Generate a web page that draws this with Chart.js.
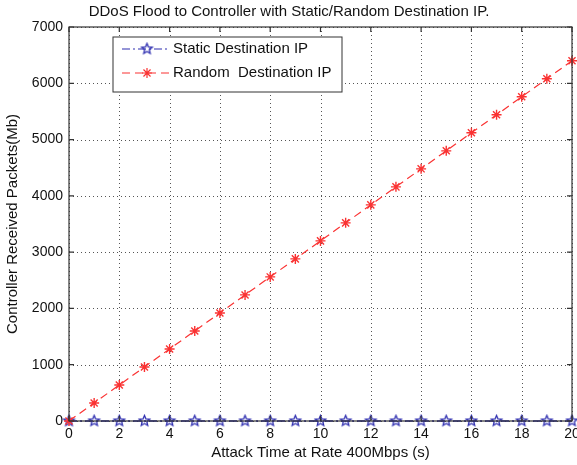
<!DOCTYPE html>
<html>
<head>
<meta charset="utf-8">
<script src="https://cdn.jsdelivr.net/npm/chart.js@4.4.0/dist/chart.umd.min.js"></script>
<style>
  html, body { margin: 0; padding: 0; background: #fff; }
  #wrap { width: 577px; height: 465px; }
</style>
</head>
<body>
<div id="wrap"><canvas id="ddosChart" width="577" height="465"></canvas></div>
<script>
// data
const attackTimes = [0, 1, 2, 3, 4, 5, 6, 7, 8, 9, 10, 11, 12, 13, 14, 15, 16, 17, 18, 19, 20];
const staticDestIP = [0, 0, 0, 0, 0, 0, 0, 0, 0, 0, 0, 0, 0, 0, 0, 0, 0, 0, 0, 0, 0];
const randomDestIP = [0, 320, 640, 960, 1280, 1600, 1920, 2240, 2560, 2880, 3200,
                      3520, 3840, 4160, 4480, 4800, 5120, 5440, 5760, 6080, 6400];
const yTicks = [0, 1000, 2000, 3000, 4000, 5000, 6000, 7000];
const xTicks = [0, 2, 4, 6, 8, 10, 12, 14, 16, 18, 20];

const BLUE = 'rgb(45, 45, 175)';
const RED = 'rgb(250, 50, 50)';
const FONT = 'Liberation Sans, Arial, sans-serif';

// outlined pentagram marker like matlab's 'p'
function pentagram(color, r) {
    const c = document.createElement('canvas');
    const s = Math.ceil(r * 2 + 4);
    c.width = s; c.height = s;
    const g = c.getContext('2d');
    g.strokeStyle = color;
    g.lineWidth = 1.3;
    g.beginPath();
    for (let i = 0; i < 10; i++) {
        const rad = i % 2 === 0 ? r : r * 0.45;
        const a = -Math.PI / 2 + i * Math.PI / 5;
        const px = s / 2 + rad * Math.cos(a), py = s / 2 + rad * Math.sin(a);
        if (i === 0) g.moveTo(px, py); else g.lineTo(px, py);
    }
    g.closePath();
    g.stroke();
    return c;
}
const starMark = pentagram(BLUE, 5.5);

// dotted grid under the lines
const gridPlugin = {
    id: 'dottedGrid',
    beforeDatasetsDraw(chart) {
        const { ctx, chartArea: a, scales } = chart;
        ctx.save();
        ctx.strokeStyle = '#555';
        ctx.lineWidth = 1;
        ctx.setLineDash([1, 3]);
        ctx.beginPath();
        xTicks.forEach(v => {
            const px = Math.round(scales.x.getPixelForValue(v)) + 0.5;
            ctx.moveTo(px, a.top); ctx.lineTo(px, a.bottom);
        });
        yTicks.forEach(v => {
            const py = Math.round(scales.y.getPixelForValue(v)) + 0.5;
            ctx.moveTo(a.left, py); ctx.lineTo(a.right, py);
        });
        ctx.stroke();
        ctx.restore();
    }
};

// frame, inward ticks, title and legend box
const decorPlugin = {
    id: 'decor',
    afterDraw(chart) {
        const { ctx, chartArea: a, scales } = chart;
        ctx.save();
        ctx.strokeStyle = '#333';
        ctx.lineWidth = 1.2;
        ctx.strokeRect(a.left, a.top, a.right - a.left, a.bottom - a.top);
        ctx.beginPath();
        xTicks.forEach(v => {
            const px = scales.x.getPixelForValue(v);
            ctx.moveTo(px, a.bottom); ctx.lineTo(px, a.bottom - 5);
            ctx.moveTo(px, a.top); ctx.lineTo(px, a.top + 5);
        });
        yTicks.forEach(v => {
            const py = scales.y.getPixelForValue(v);
            ctx.moveTo(a.left, py); ctx.lineTo(a.left + 5, py);
            ctx.moveTo(a.right, py); ctx.lineTo(a.right - 5, py);
        });
        ctx.stroke();

        ctx.fillStyle = '#111';
        ctx.font = '15px ' + FONT;
        ctx.textAlign = 'center';
        ctx.textBaseline = 'middle';
        ctx.fillText('DDoS Flood to Controller with Static/Random Destination IP.', 289, 12);

        // legend
        const lx = 113, ly = 37, lw = 229, lh = 55;
        ctx.fillStyle = '#fff';
        ctx.fillRect(lx, ly, lw, lh);
        ctx.strokeStyle = '#333';
        ctx.lineWidth = 1;
        ctx.strokeRect(lx, ly, lw, lh);

        ctx.lineWidth = 1.2;
        ctx.strokeStyle = BLUE;
        ctx.setLineDash([8, 3, 2, 3]);
        ctx.beginPath(); ctx.moveTo(122, 49); ctx.lineTo(170, 49); ctx.stroke();
        ctx.setLineDash([]);
        ctx.drawImage(starMark, 147 - starMark.width / 2, 49 - starMark.height / 2);

        ctx.strokeStyle = RED;
        ctx.setLineDash([8, 5]);
        ctx.beginPath(); ctx.moveTo(122, 73); ctx.lineTo(170, 73); ctx.stroke();
        ctx.setLineDash([]);
        ctx.beginPath();
        for (let i = 0; i < 4; i++) {
            const ang = i * Math.PI / 4;
            ctx.moveTo(147 - 5 * Math.cos(ang), 73 - 5 * Math.sin(ang));
            ctx.lineTo(147 + 5 * Math.cos(ang), 73 + 5 * Math.sin(ang));
        }
        ctx.stroke();

        ctx.fillStyle = '#111';
        ctx.font = '15px ' + FONT;
        ctx.textAlign = 'left';
        ctx.fillText('Static Destination IP', 173, 49);
        ctx.fillText('Random  Destination IP', 173, 73);
        ctx.restore();
    }
};

const ctx = document.getElementById('ddosChart').getContext('2d');
new Chart(ctx, {
    type: 'line',
    data: {
        labels: attackTimes,
        datasets: [
            {
                label: 'Random  Destination IP',
                data: attackTimes.map((t, i) => ({ x: t, y: randomDestIP[i] })),
                borderColor: RED,
                backgroundColor: RED,
                borderWidth: 1.2,
                borderDash: [8, 5],
                pointStyle: 'star',
                pointRadius: 5,
                pointBorderWidth: 1.4,
                fill: false,
                tension: 0
            },
            {
                label: 'Static Destination IP',
                data: attackTimes.map((t, i) => ({ x: t, y: staticDestIP[i] })),
                borderColor: BLUE,
                backgroundColor: BLUE,
                borderWidth: 1.4,
                borderDash: [8, 3, 2, 3],
                pointStyle: starMark,
                fill: false,
                tension: 0
            }
        ]
    },
    options: {
        responsive: false,
        animation: false,
        clip: false,
        layout: { autoPadding: false, padding: { left: 0, right: 5, top: 27, bottom: 0 } },
        plugins: {
            legend: { display: false },
            title: { display: false },
            tooltip: { enabled: false }
        },
        scales: {
            x: {
                type: 'linear',
                min: 0,
                max: 20,
                afterBuildTicks: s => { s.ticks = xTicks.map(v => ({ value: v })); },
                afterFit: s => { s.height = 44; s.paddingLeft = 0; s.paddingRight = 0; },
                grid: { display: false, drawTicks: false },
                border: { display: false },
                ticks: {
                    color: '#111',
                    font: { family: FONT, size: 14 },
                    padding: 5,
                    maxRotation: 0,
                    callback: v => String(v)
                },
                title: {
                    display: true,
                    text: 'Attack Time at Rate 400Mbps (s)',
                    color: '#111',
                    font: { family: FONT, size: 15 },
                    padding: { top: 0, bottom: 3 }
                }
            },
            y: {
                min: 0,
                max: 7000,
                afterBuildTicks: s => { s.ticks = yTicks.map(v => ({ value: v })); },
                afterFit: s => { s.width = 69; s.paddingTop = 0; s.paddingBottom = 0; },
                grid: { display: false, drawTicks: false },
                border: { display: false },
                ticks: {
                    color: '#111',
                    font: { family: FONT, size: 14 },
                    padding: 6,
                    callback: v => String(v)
                },
                title: {
                    display: true,
                    text: 'Controller Received Packets(Mb)',
                    color: '#111',
                    font: { family: FONT, size: 15 },
                    padding: { top: 4, bottom: 2 }
                }
            }
        }
    },
    plugins: [gridPlugin, decorPlugin]
});
</script>
</body>
</html>
